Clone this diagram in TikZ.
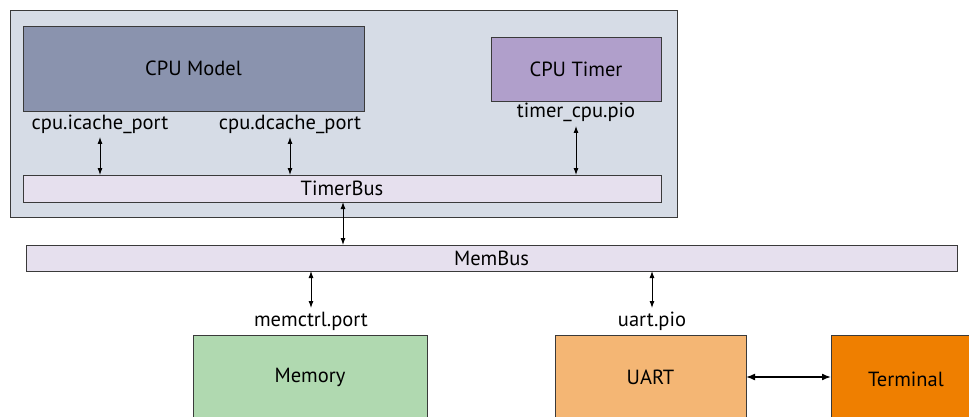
\documentclass[tikz,border=0pt]{standalone}
\usepackage{fontspec}
\setmainfont{PT Sans}
\usetikzlibrary{arrows.meta}
\definecolor{outerfill}{HTML}{D6DCE6}
\definecolor{cpufill}{HTML}{8A93AE}
\definecolor{timerfill}{HTML}{B09FCB}
\definecolor{busfill}{HTML}{E6E0EE}
\definecolor{memfill}{HTML}{B0D9B0}
\definecolor{uartfill}{HTML}{F4B674}
\definecolor{termfill}{HTML}{EF7F00}
\definecolor{edge}{HTML}{3A3A3A}
\tikzset{
  box/.style={draw=edge, line width=0.9pt, inner sep=0pt, outer sep=0pt, font=\fontsize{20.5}{22}\selectfont},
  portlabel/.style={inner sep=0pt, font=\fontsize{20.5}{22}\selectfont},
  link/.style={line width=0.9pt, {Latex[length=7pt,width=5pt]}-{Latex[length=7pt,width=5pt]}},
  thicklink/.style={line width=1.6pt, {Latex[length=9pt,width=7pt]}-{Latex[length=9pt,width=7pt]}},
}
\begin{document}
\begin{tikzpicture}[x=1pt,y=-1pt]
\useasboundingbox (0,0) rectangle (969,417);
\clip (0,0) rectangle (969,417);
% system container
\node[box, fill=outerfill, minimum width=667pt, minimum height=207pt] (sys) at (343.5,113.5) {};
% components inside the container
\node[box, fill=cpufill, minimum width=341pt, minimum height=85pt] (cpu) at (193.5,68.5) {CPU Model};
\node[box, fill=timerfill, minimum width=170pt, minimum height=64pt] (timer) at (576,69) {CPU Timer};
\node[box, fill=busfill, minimum width=638pt, minimum height=27pt] (tbus) at (342,188.5) {TimerBus};
% port names
\node[portlabel] (iport) at (100,124) {cpu.icache\_port};
\node[portlabel] (dport) at (290,124) {cpu.dcache\_port};
\node[portlabel] (tport) at (576,112) {timer\_cpu.pio};
% memory bus and attached devices
\node[box, fill=busfill, minimum width=931pt, minimum height=26pt] (mbus) at (491.5,258) {MemBus};
\node[portlabel] (mport) at (311,321) {memctrl.port};
\node[portlabel] (uport) at (652,321) {uart.pio};
\node[box, fill=memfill, minimum width=234pt, minimum height=84pt] (mem) at (310,377) {Memory};
\node[box, fill=uartfill, minimum width=191pt, minimum height=84pt] (uart) at (650.5,377) {UART};
\node[box, fill=termfill, minimum width=150pt, minimum height=88pt] (term) at (906,379) {Terminal};
% connections
\coordinate (i1) at (100,137);
\coordinate (d1) at (290,137);
\coordinate (t1) at (576,126);
\draw[link] (i1) -- (i1 |- tbus.north);
\draw[link] (d1) -- (d1 |- tbus.north);
\draw[link] (t1) -- (t1 |- tbus.north);
\draw[link] (tbus.south -| 343,0) -- (mbus.north -| 343,0);
\coordinate (m1) at (311,308);
\coordinate (u1) at (652,308);
\draw[link] (mbus.south -| m1) -- (m1);
\draw[link] (mbus.south -| u1) -- (u1);
\draw[thicklink] (uart.east |- 0,377) -- (term.west |- 0,377);
\end{tikzpicture}
\end{document}
